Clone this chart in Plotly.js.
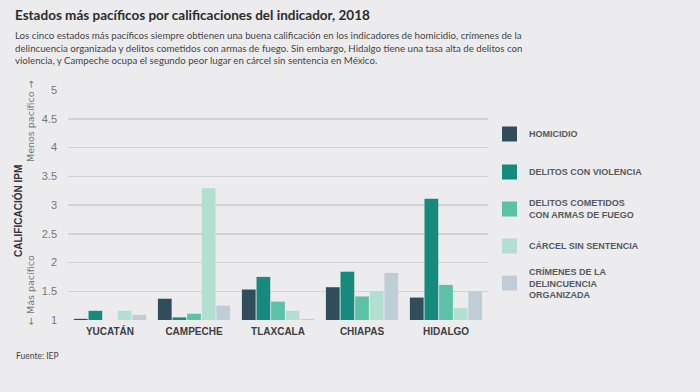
<!DOCTYPE html>
<html>
<head>
<meta charset="utf-8">
<script src="https://cdn.plot.ly/plotly-3.0.1.min.js"></script>
<style>html,body{margin:0;padding:0;background:#ececee;}</style>
</head>
<body>
<div id="chart" style="width:700px;height:392px;"></div>
<script>
const states = ["YUCATÁN", "CAMPECHE", "TLAXCALA", "CHIAPAS", "HIDALGO"];
const seriesNames = ["HOMICIDIO", "DELITOS CON VIOLENCIA", "DELITOS COMETIDOS<br>CON ARMAS DE FUEGO", "CÁRCEL SIN SENTENCIA", "CRÍMENES DE LA<br>DELINCUENCIA<br>ORGANIZADA"];
const homicidio = [1.02, 1.37, 1.53, 1.57, 1.39];
const delitosViolencia = [1.16, 1.045, 1.75, 1.84, 3.11];
const armasFuego = [1.0, 1.11, 1.32, 1.41, 1.61];
const carcelSinSentencia = [1.16, 3.29, 1.16, 1.49, 1.21];
const crimenOrganizado = [1.09, 1.25, 1.02, 1.82, 1.50];
const yTicks = [1, 1.5, 2, 2.5, 3, 3.5, 4, 4.5, 5];
const yTickLabels = ["1", "1.5", "2", "2.5", "3", "3.5", "4", "4.5", "5"];

const colors = ["#2f4d5b", "#168a7c", "#5cc2a7", "#b2dfd0", "#bfcdd6"];
const series = [homicidio, delitosViolencia, armasFuego, carcelSinSentencia, crimenOrganizado];

const traces = series.map((vals, i) => ({
  type: "bar",
  x: states,
  y: vals.map(v => v - 1),
  base: 1,
  name: seriesNames[i],
  marker: {color: colors[i], line: {width: 0}},
  showlegend: false,
  hoverinfo: "skip"
}));

const plotL = 68, plotR = 488, plotT = 90, plotB = 320, W = 700, H = 392;
function px(xp) { return (xp - plotL) / (plotR - plotL); }
function py(yp) { return (plotB - yp) / (plotB - plotT); }

const legendFont = {family: "Liberation Sans, Arial, sans-serif", size: 9, color: "#555a60", weight: 700};
const legendCenters = [134, 172, 209, 246, 283];
const annotations = [];
const shapes = [];
seriesNames.forEach((n, i) => {
  const c = legendCenters[i];
  shapes.push({type: "rect", xref: "paper", yref: "paper",
    x0: px(502), x1: px(517), y0: py(c + 7.5), y1: py(c - 7.5),
    fillcolor: colors[i], line: {width: 0}});
  annotations.push({xref: "paper", yref: "paper", x: px(527), y: py(c),
    xanchor: "left", yanchor: "middle", align: "left", showarrow: false,
    text: n, font: legendFont});
});
const textFamily = "Lato, Liberation Sans, Arial, sans-serif";
annotations.push({xref: "paper", yref: "paper", x: px(18), y: py(211), text: "CALIFICACIÓN IPM",
  textangle: -90, showarrow: false, xanchor: "center", yanchor: "middle",
  font: {family: "Liberation Sans, Arial, sans-serif", size: 10, color: "#333", weight: 700}});
annotations.push({xref: "paper", yref: "paper", x: px(30), y: py(121), text: "Menos pacífico →",
  textangle: -90, showarrow: false, xanchor: "center", yanchor: "middle",
  font: {family: "DejaVu Sans, sans-serif", size: 9.5, color: "#777"}});
annotations.push({xref: "paper", yref: "paper", x: px(30), y: py(290), text: "← Más pacífico",
  textangle: -90, showarrow: false, xanchor: "center", yanchor: "middle",
  font: {family: "DejaVu Sans, sans-serif", size: 9.5, color: "#777"}});
annotations.push({xref: "paper", yref: "paper", x: px(13), y: py(15), text: "Estados más pacíficos por calificaciones del indicador, 2018",
  showarrow: false, xanchor: "left", yanchor: "middle",
  font: {family: textFamily, size: 13.5, color: "#2b2b2b", weight: 700}});
annotations.push({xref: "paper", yref: "paper", x: px(13), y: py(48),
  text: "Los cinco estados más pacíficos siempre obtienen una buena calificación en los indicadores de homicidio, crímenes de la<br>delincuencia organizada y delitos cometidos con armas de fuego. Sin embargo, Hidalgo tiene una tasa alta de delitos con<br>violencia, y Campeche ocupa el segundo peor lugar en cárcel sin sentencia en México.",
  showarrow: false, xanchor: "left", yanchor: "middle", align: "left",
  font: {family: textFamily, size: 9.7, color: "#444"}});
annotations.push({xref: "paper", yref: "paper", x: px(14), y: py(356), text: "Fuente: IEP",
  showarrow: false, xanchor: "left", yanchor: "middle",
  font: {family: textFamily, size: 8.5, color: "#444"}});

const layout = {
  width: W, height: H,
  paper_bgcolor: "#ececee", plot_bgcolor: "#ececee",
  margin: {l: plotL, r: W - plotR, t: plotT, b: H - plotB, pad: 0},
  barmode: "group", bargap: 0.13, bargroupgap: 0.06,
  xaxis: {type: "category", showgrid: false, zeroline: false, showline: false,
    tickfont: {family: "Liberation Sans, Arial, sans-serif", size: 10, color: "#3a3d42", weight: 700},
    ticks: "", ticklabelstandoff: 4, fixedrange: true},
  yaxis: {range: [1, 5], tickvals: yTicks, ticktext: yTickLabels, showgrid: true,
    gridcolor: "#d2d2d4", gridwidth: 1.5, zeroline: false, showline: false,
    tickfont: {family: "Liberation Sans, Arial, sans-serif", size: 11, color: "#777"},
    ticks: "", ticklabelstandoff: 10, fixedrange: true},
  shapes: shapes, annotations: annotations,
  showlegend: false
};
Plotly.newPlot("chart", traces, layout, {displayModeBar: false, staticPlot: true});
</script>
</body>
</html>
